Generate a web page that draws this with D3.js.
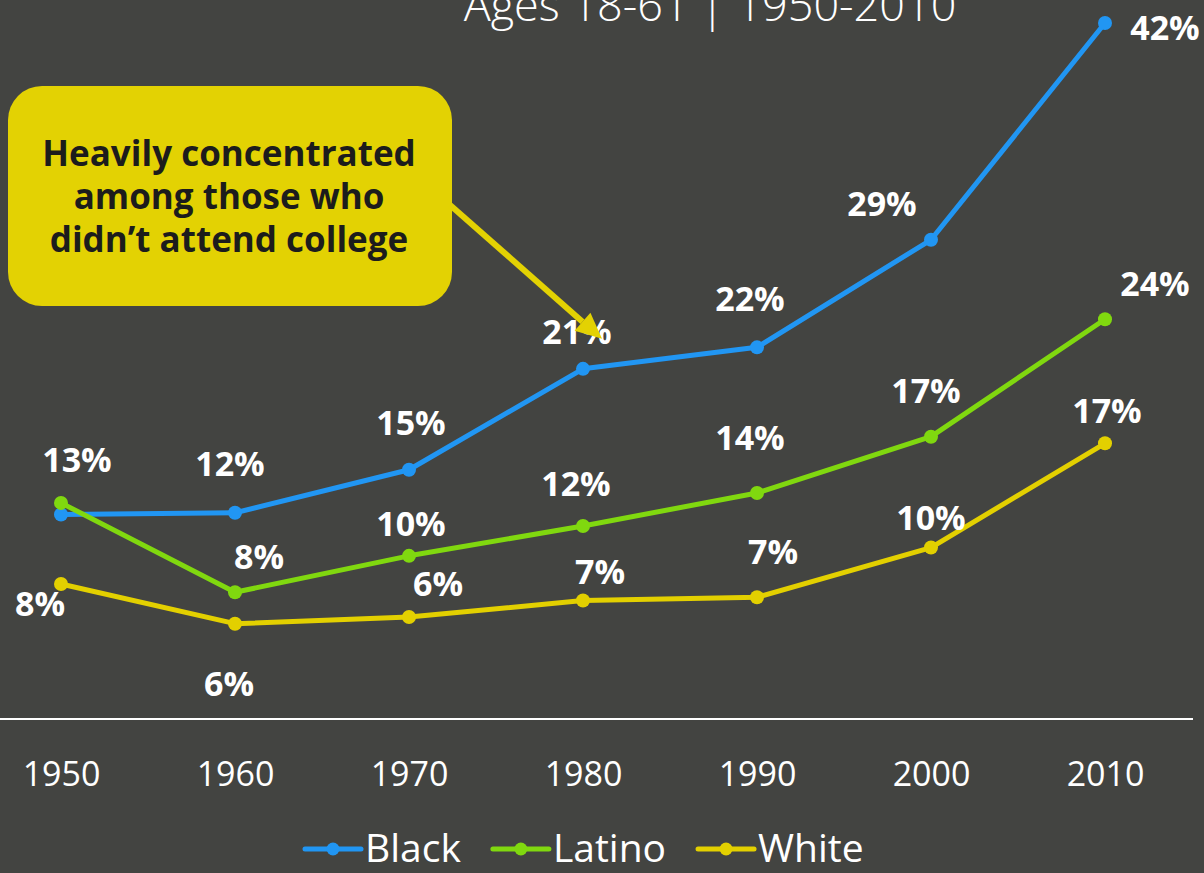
<!DOCTYPE html>
<html>
<head>
<meta charset="utf-8">
<script src="https://cdn.jsdelivr.net/npm/d3@7"></script>
<style>
  html, body { margin: 0; padding: 0; background: #434441; }
  svg { display: block; }
  text { font-family: "Open Sans", "Noto Sans", sans-serif; }
</style>
</head>
<body>
<svg id="chart" width="1204" height="873"></svg>
<script>
// Share of men ages 18-61 who were incarcerated, by race, 1950-2010
const years = ["1950", "1960", "1970", "1980", "1990", "2000", "2010"];
const seriesNames = ["Black", "Latino", "White"];
const blackValues  = [12.3, 12.4, 15.0, 21.1, 22.4, 28.9, 42.0];
const latinoValues = [13.0, 7.6, 9.8, 11.6, 13.6, 17.0, 24.1];
const whiteValues  = [8.1, 5.7, 6.1, 7.1, 7.3, 10.3, 16.6];
// which points carry a value label (1950 Black is crowded out by Latino)
const blackLabelled  = [false, true, true, true, true, true, true];
const latinoLabelled = [true, true, true, true, true, true, true];
const whiteLabelled  = [true, true, true, true, true, true, true];

const titleText = "Ages 18-61 | 1950-2010";
const calloutLines = ["Heavily concentrated", "among those who", "didn\u2019t attend college"];

// label placement relative to each point [dx, dy]
const labelOffsets = {
  Black:  [[0, -36], [-5, -37], [2, -35], [-6, -25], [-7, -36], [-49, -24], [60, 17]],
  Latino: [[16, -31], [24, -23], [2, -20], [-7, -30], [-7, -43], [-5, -34], [50, -23]],
  White:  [[-21, 32], [-6, 72], [29, -21], [17, -17], [16, -33], [0, -18], [2, -20]]
};

const colors = { Black: "#2196f3", Latino: "#80d80f", White: "#e3d000" };

const series = [
  { name: "Black",  values: blackValues,  labelled: blackLabelled },
  { name: "Latino", values: latinoValues, labelled: latinoLabelled },
  { name: "White",  values: whiteValues,  labelled: whiteLabelled }
];

const W = 1204, H = 873;
const svg = d3.select("#chart");

svg.append("rect").attr("width", W).attr("height", H).attr("fill", "#434441");

const x = d3.scalePoint().domain(years).range([61, 1105]);
const y = d3.scaleLinear().domain([0, 42]).range([718, 23]);

// title (top runs off the frame)
svg.append("text")
  .attr("x", 710).attr("y", 21)
  .attr("text-anchor", "middle")
  .attr("fill", "#ffffff")
  .attr("font-size", 45)
  .attr("font-weight", 300)
  .text(titleText);

// x axis
const xAxis = d3.axisBottom(x).tickSize(0).tickPadding(0);
const axisG = svg.append("g").attr("transform", `translate(0, ${y(0)})`).call(xAxis);
axisG.select(".domain").remove();
axisG.append("line")
  .attr("x1", 0).attr("x2", 1193)
  .attr("y1", 1).attr("y2", 1)
  .attr("stroke", "#ffffff").attr("stroke-width", 2);
axisG.selectAll(".tick text")
  .attr("y", 68)
  .attr("dy", null)
  .attr("fill", "#ffffff")
  .attr("font-size", 34)
  .attr("font-weight", 400)
  .attr("font-family", "\"Open Sans\", sans-serif");

// lines and points
const line = d3.line()
  .x((d, i) => x(years[i]))
  .y(d => y(d));

const seriesG = svg.append("g");
series.forEach(s => {
  const g = seriesG.append("g");
  g.append("path")
    .datum(s.values)
    .attr("d", line)
    .attr("fill", "none")
    .attr("stroke", colors[s.name])
    .attr("stroke-width", 5)
    .attr("stroke-linejoin", "round");
  g.selectAll("circle")
    .data(s.values)
    .join("circle")
    .attr("cx", (d, i) => x(years[i]))
    .attr("cy", d => y(d))
    .attr("r", 7)
    .attr("fill", colors[s.name]);
});

// value labels
const fmt = v => d3.format(".0f")(v) + "%";
series.forEach(s => {
  svg.append("g")
    .selectAll("text")
    .data(s.values.map((v, i) => ({ v, i })).filter(d => s.labelled[d.i]))
    .join("text")
    .attr("x", d => x(years[d.i]) + labelOffsets[s.name][d.i][0])
    .attr("y", d => y(d.v) + labelOffsets[s.name][d.i][1])
    .attr("text-anchor", "middle")
    .attr("fill", "#ffffff")
    .attr("font-size", 34)
    .attr("font-weight", 700)
    .text(d => fmt(d.v));
});

// callout box with arrow pointing at the 1980 Black value
const callout = svg.append("g");
callout.append("rect")
  .attr("x", 8).attr("y", 86)
  .attr("width", 444).attr("height", 220)
  .attr("rx", 34).attr("ry", 34)
  .attr("fill", "#e3d203");
callout.append("text")
  .attr("x", 229)
  .attr("text-anchor", "middle")
  .attr("fill", "#1c1c1c")
  .attr("font-size", 35)
  .attr("font-weight", 700)
  .selectAll("tspan")
  .data(calloutLines)
  .join("tspan")
  .attr("x", 229)
  .attr("y", (d, i) => 166 + i * 43)
  .text(d => d);

const ax0 = 450, ay0 = 205;
const tipX = x("1980") + 19, tipY = y(blackValues[3]) - 30;
const ang = Math.atan2(tipY - ay0, tipX - ax0);
const headLen = 26, headHalf = 12;
const bx = tipX - headLen * Math.cos(ang), by = tipY - headLen * Math.sin(ang);
callout.append("line")
  .attr("x1", ax0).attr("y1", ay0)
  .attr("x2", bx).attr("y2", by)
  .attr("stroke", "#e3d203").attr("stroke-width", 6);
callout.append("path")
  .attr("d", d3.line()([
    [tipX, tipY],
    [bx + headHalf * Math.sin(ang), by - headHalf * Math.cos(ang)],
    [bx - headHalf * Math.sin(ang), by + headHalf * Math.cos(ang)]
  ]) + "Z")
  .attr("fill", "#e3d203");

// legend
const legend = svg.append("g").attr("transform", "translate(0, 849)");
let lx = 305;
seriesNames.forEach(name => {
  const item = legend.append("g").attr("transform", `translate(${lx}, 0)`);
  item.append("line")
    .attr("x1", 0).attr("x2", 56)
    .attr("stroke", colors[name]).attr("stroke-width", 5)
    .attr("stroke-linecap", "round");
  item.append("circle").attr("cx", 28).attr("r", 6.5).attr("fill", colors[name]);
  const t = item.append("text")
    .attr("x", 60).attr("y", 13)
    .attr("fill", "#ffffff")
    .attr("font-size", 39)
    .attr("font-weight", 400)
    .text(name);
  lx += 60 + t.node().getComputedTextLength() + 32;
});
</script>
</body>
</html>
